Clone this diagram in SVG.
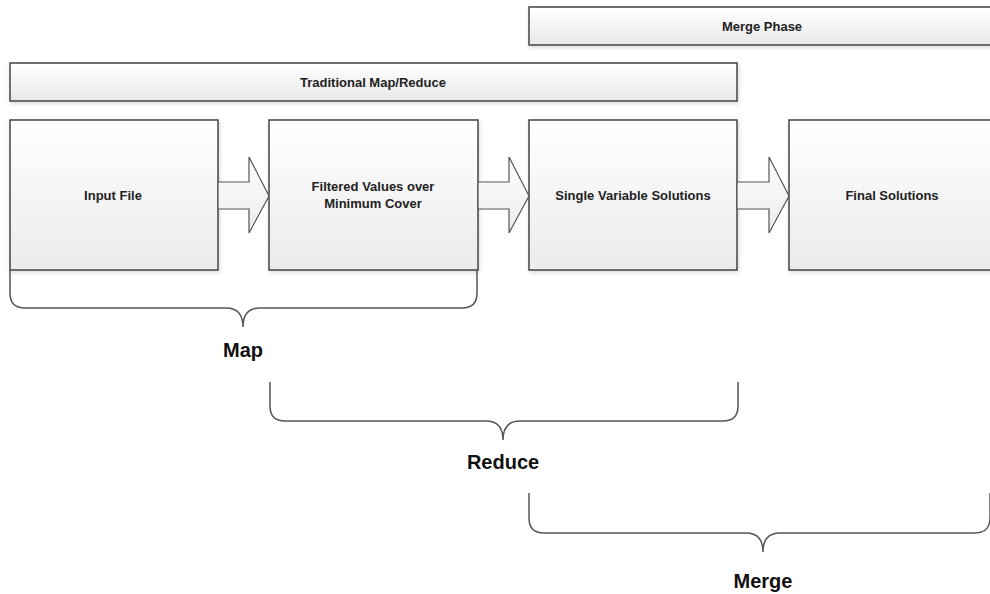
<svg xmlns="http://www.w3.org/2000/svg" width="990" height="594" viewBox="0 0 990 594">
  <defs>
    <linearGradient id="boxFill" x1="0" y1="0" x2="0" y2="1">
      <stop offset="0" stop-color="#ffffff"/>
      <stop offset="1" stop-color="#ebebeb"/>
    </linearGradient>
    <linearGradient id="barFill" x1="0" y1="0" x2="0" y2="1">
      <stop offset="0" stop-color="#ffffff"/>
      <stop offset="1" stop-color="#e8e8e8"/>
    </linearGradient>
    <filter id="shadow" x="-5%" y="-10%" width="110%" height="130%">
      <feDropShadow dx="1" dy="2" stdDeviation="2" flood-color="#000" flood-opacity="0.15"/>
    </filter>
  </defs>
  <style>
    .box { fill: url(#boxFill); stroke: #444; stroke-width: 1.5; filter: url(#shadow); }
    .bar { fill: url(#barFill); stroke: #444; stroke-width: 1.5; filter: url(#shadow); }
    .arrow { fill: url(#boxFill); stroke: #555; stroke-width: 1.2; stroke-linejoin: miter; }
    .brace { fill: none; stroke: #555; stroke-width: 1.5; }
    .t { font-family: "Liberation Sans", Arial, sans-serif; font-weight: bold; font-size: 13px; fill: #222; text-anchor: middle; }
    .lbl { font-family: "Liberation Sans", Arial, sans-serif; font-weight: bold; font-size: 20px; fill: #111; text-anchor: middle; }
  </style>
  <rect width="990" height="594" fill="#fff"/>

  <!-- phase bars -->
  <g id="merge-phase">
    <rect class="bar" x="529" y="7" width="470" height="38"/>
    <text class="t" x="762" y="31">Merge Phase</text>
  </g>
  <g id="traditional-map-reduce">
    <rect class="bar" x="10" y="63" width="727" height="38"/>
    <text class="t" x="373" y="87">Traditional Map/Reduce</text>
  </g>

  <!-- process nodes -->
  <g id="input-file">
    <rect class="box" x="10" y="120" width="208" height="150"/>
    <text class="t" x="113" y="200">Input File</text>
  </g>
  <g id="filtered-values">
    <rect class="box" x="269" y="120" width="209" height="150"/>
    <text class="t" x="373" y="191">Filtered Values over</text>
    <text class="t" x="373" y="208">Minimum Cover</text>
  </g>
  <g id="single-variable-solutions">
    <rect class="box" x="529" y="120" width="208" height="150"/>
    <text class="t" x="633" y="200">Single Variable Solutions</text>
  </g>
  <g id="final-solutions">
    <rect class="box" x="789" y="120" width="210" height="150"/>
    <text class="t" x="892" y="200">Final Solutions</text>
  </g>

  <!-- block arrows between nodes -->
  <g id="connectors">
    <polygon class="arrow" points="218,182 249,182 249,157 269,196 249,233 249,209 218,209"/>
    <polygon class="arrow" points="478,182 509,182 509,157 529,196 509,233 509,209 478,209"/>
    <polygon class="arrow" points="737,182 769,182 769,157 789,196 769,233 769,209 737,209"/>
  </g>

  <!-- grouping braces -->
  <g id="map-brace">
    <path class="brace" d="M10,270 L10,293 Q10,308 25,308 L226,308 Q243,308 243,327 Q243,308 260,308 L462,308 Q477,308 477,293 L477,270"/>
    <text class="lbl" x="243" y="357">Map</text>
  </g>
  <g id="reduce-brace">
    <path class="brace" d="M270,382 L270,406 Q270,421 285,421 L486,421 Q503,421 503,440 Q503,421 520,421 L723,421 Q738,421 738,406 L738,382"/>
    <text class="lbl" x="503" y="469">Reduce</text>
  </g>
  <g id="merge-brace">
    <path class="brace" d="M529,493 L529,518 Q529,533 544,533 L746,533 Q763,533 763,552 Q763,533 780,533 L975,533 Q990,533 990,518 L990,493"/>
    <text class="lbl" x="763" y="588">Merge</text>
  </g>
</svg>
